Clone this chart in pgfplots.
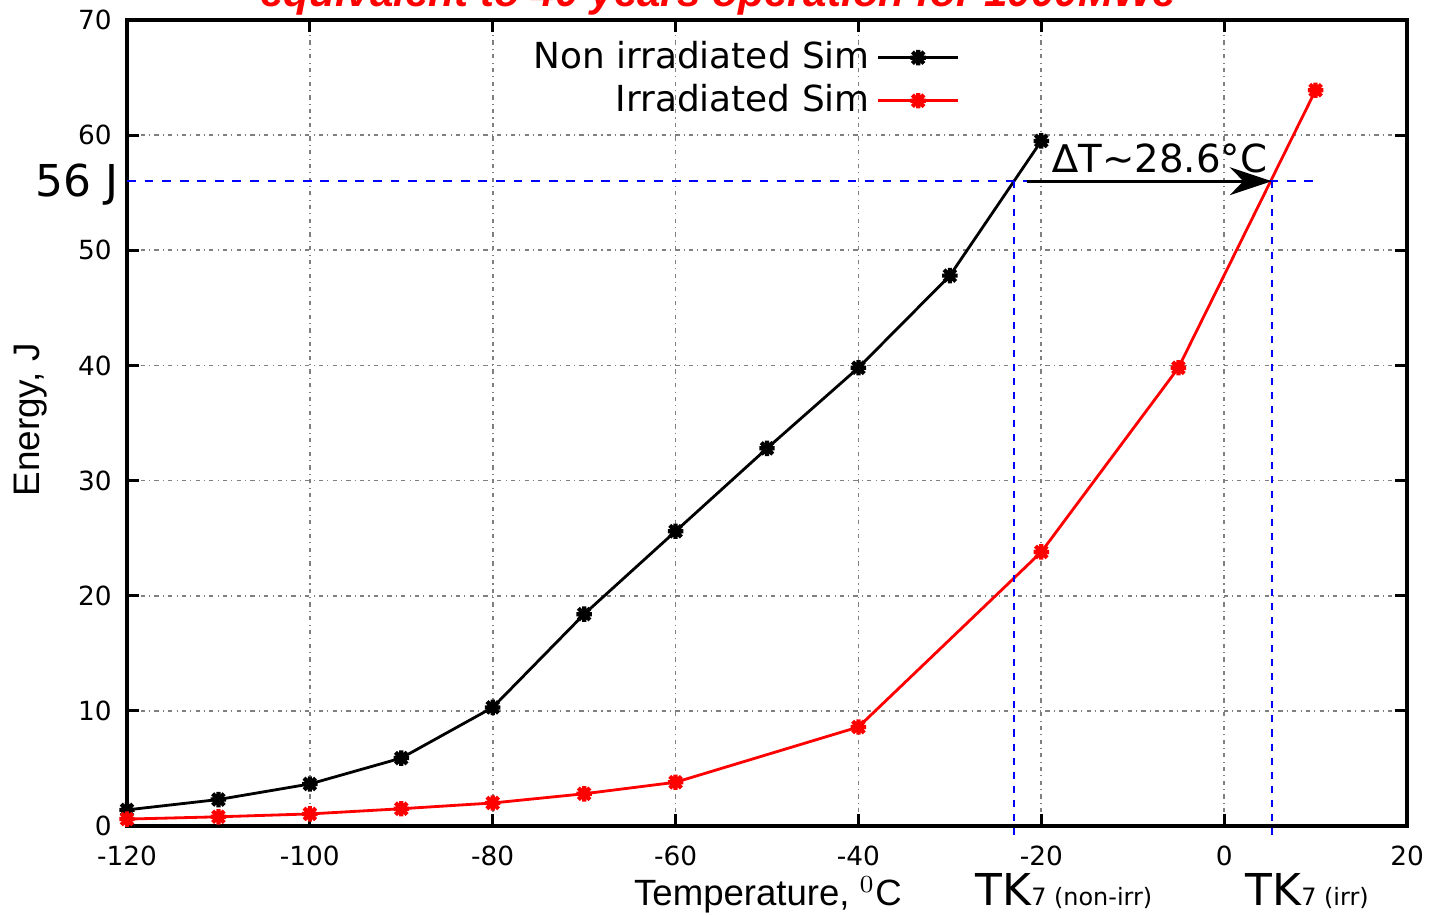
\documentclass[border=0pt]{standalone}
\usepackage{pgfplots}
\pgfplotsset{compat=1.18}
\usepackage{fontspec}
\setmainfont{DejaVu Sans}
\newfontfamily\lib{Liberation Sans}
\usetikzlibrary{arrows.meta}
\definecolor{gpblue}{RGB}{0,0,255}
\definecolor{gpred}{RGB}{255,0,0}
\pgfdeclareplotmark{gpstar}{%
  \pgfpathmoveto{\pgfqpoint{-\pgfplotmarksize}{0pt}}\pgfpathlineto{\pgfqpoint{\pgfplotmarksize}{0pt}}%
  \pgfpathmoveto{\pgfqpoint{0pt}{-\pgfplotmarksize}}\pgfpathlineto{\pgfqpoint{0pt}{\pgfplotmarksize}}%
  \pgfpathmoveto{\pgfqpoint{-0.75\pgfplotmarksize}{-0.75\pgfplotmarksize}}\pgfpathlineto{\pgfqpoint{0.75\pgfplotmarksize}{0.75\pgfplotmarksize}}%
  \pgfpathmoveto{\pgfqpoint{-0.75\pgfplotmarksize}{0.75\pgfplotmarksize}}\pgfpathlineto{\pgfqpoint{0.75\pgfplotmarksize}{-0.75\pgfplotmarksize}}%
  \pgfusepathqstroke}
\pgfplotstableread{
x y
-120 1.4
-110 2.3
-100 3.65
-90 5.9
-80 10.3
-70 18.4
-60 25.6
-50 32.8
-40 39.8
-30 47.8
-20 59.5
}\nonirr
\pgfplotstableread{
x y
-120 0.6
-110 0.8
-100 1.05
-90 1.5
-80 2.0
-70 2.8
-60 3.8
-40 8.6
-20 23.8
-5 39.8
10 63.9
}\irr
\begin{document}
\begin{tikzpicture}
\begin{axis}[
  at={(0,0)}, anchor=south west, scale only axis,
  width=128mm, height=80.6mm,
  xmin=-120, xmax=20, ymin=0, ymax=70,
  xtick={-120,-100,...,20}, ytick={0,10,...,70},
  grid=major,
  major grid style={gray, line width=0.5pt, dash pattern=on 1.2pt off 1.2pt on 0.3pt off 1.2pt},
  tick align=inside, major tick length=1.2mm,
  axis line style={line width=0.9pt},
  tick style={line width=0.8pt, black},
  ticklabel style={font=\fontsize{7.5}{9}\selectfont},
  /pgf/number format/assume math mode=true,
  xticklabel style={yshift=-0.8mm},
  yticklabel style={xshift=-0.3mm},
  legend style={draw=none, fill=none, at={(rel axis cs:0.651,0.983)}, anchor=north east,
    font=\fontsize{10.2}{11.5}\selectfont, inner sep=0pt, row sep=-1pt},
  legend cell align=right,
  legend plot pos=right,
  legend image code/.code={%
    \draw[#1] (0cm,0cm) -- (0.8cm,0cm);
    \draw[#1, only marks] plot coordinates {(0.4cm,0cm)};},
  clip=false,
]
\addplot[black, line width=0.8pt, mark=gpstar, mark size=2.2pt, mark options={line width=1.2pt}] table[x=x,y=y] {\nonirr};
\addlegendentry{Non irradiated Sim}
\addplot[gpred, line width=0.8pt, mark=gpstar, mark size=2.2pt, mark options={line width=1.2pt}] table[x=x,y=y] {\irr};
\addlegendentry{Irradiated Sim}
\addplot[draw=gpblue, line width=0.5pt, dash pattern=on 2.5pt off 2.5pt, mark=none, forget plot] coordinates {(-120,56) (9.8,56)};
\addplot[draw=gpblue, line width=0.5pt, dash pattern=on 2pt off 2pt, mark=none, forget plot] coordinates {(-23.0,56) (-23.0,-1)};
\addplot[draw=gpblue, line width=0.5pt, dash pattern=on 2pt off 2pt, mark=none, forget plot] coordinates {(5.2,56) (5.2,-1)};
\draw[black, line width=0.8pt, -{Stealth[length=4.2mm,width=2.8mm]}] (axis cs:-21.6,56) -- (axis cs:5.2,56);
\end{axis}
\node[anchor=base, text=gpred, font=\lib\bfseries\itshape\fontsize{12}{14}\selectfont] at (59.1mm,81.9mm) {equivalent to 40 years operation for 1000MWe};
\node[anchor=base east, font=\fontsize{12.5}{15}\selectfont, inner sep=0pt] at (-0.8mm,62.9mm) {56 J};
\node[anchor=base, font=\fontsize{11}{13}\selectfont, inner sep=0pt] at (103.3mm,65.3mm) {∆T∼28.6°C};
\node[rotate=90, font=\lib\fontsize{10.5}{12}\selectfont] at (-9.6mm,40.6mm) {Energy, J};
\node[anchor=base, font=\lib\fontsize{10.4}{12}\selectfont, inner sep=0pt] at (64.1mm,-7.9mm) {Temperature, $^0$C};
\node[anchor=base west, inner sep=0pt] at (84.8mm,-7.9mm) {\fontsize{12.5}{15}\selectfont TK\fontsize{6.8}{8}\selectfont7 (non-irr)};
\node[anchor=base west, inner sep=0pt] at (111.8mm,-7.9mm) {\fontsize{12.5}{15}\selectfont TK\fontsize{6.8}{8}\selectfont7 (irr)};
\pgfresetboundingbox
\useasboundingbox (-12.7mm,-8.9mm) rectangle (130.6mm,82.6mm);
\end{tikzpicture}
\end{document}
